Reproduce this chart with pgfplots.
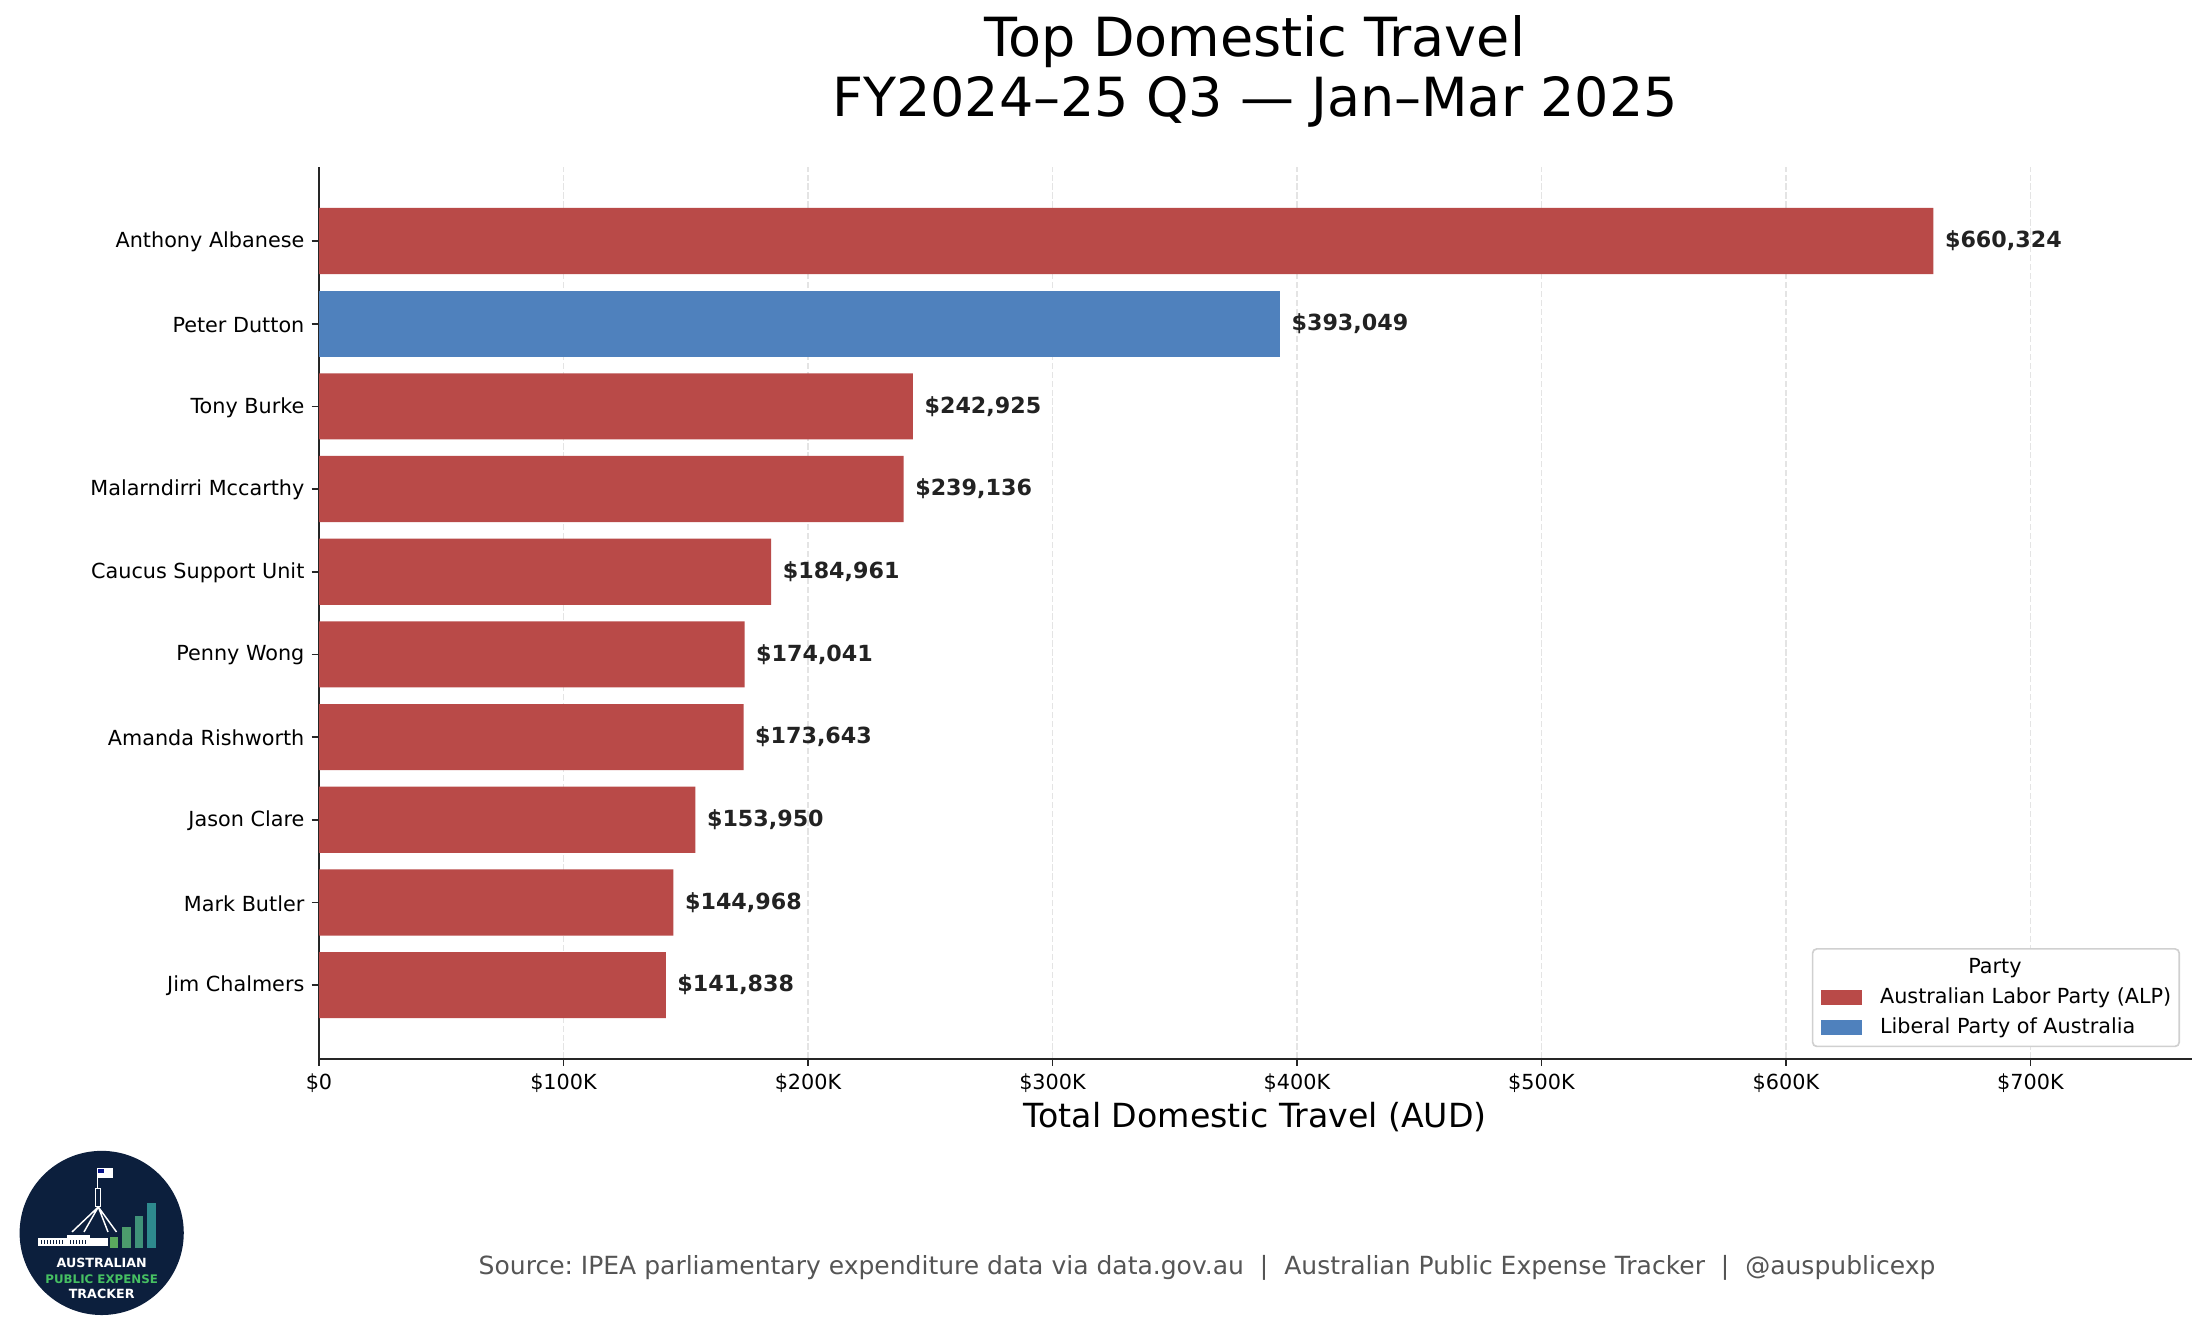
\documentclass[border=0pt]{standalone}
\usepackage{fontspec}
\setmainfont{DejaVu Sans}
\usepackage{pgfplots}
\pgfplotsset{compat=1.18}
\pgfplotsset{/pgf/number format/assume math mode=true}
\definecolor{alp}{HTML}{B94A48}
\definecolor{lib}{HTML}{4F81BD}
\definecolor{axc}{HTML}{262626}
\definecolor{gridc}{HTML}{E4E4E4}
\definecolor{navy}{HTML}{0C1F3D}
\definecolor{lblc}{HTML}{222222}
\definecolor{srcc}{HTML}{555555}
\definecolor{legc}{HTML}{D0D0D0}
\definecolor{lgA}{HTML}{5BAA5E}
\definecolor{lgB}{HTML}{4C9C6C}
\definecolor{lgC}{HTML}{3F9279}
\definecolor{lgD}{HTML}{2E8A8E}
\definecolor{lgGreen}{HTML}{46C062}
\frenchspacing
\begin{document}
\begin{tikzpicture}
\path[use as bounding box] (0,0) rectangle (1058.4bp,641.76bp);
\begin{axis}[
  at={(153.12bp,133.58bp)}, anchor=south west,
  width=898.9bp, height=427.8bp, scale only axis,
  xmin=0, xmax=765976, ymin=-0.89, ymax=9.89,
  axis lines*=left,
  axis line style={draw=axc, line width=0.8pt},
  tick style={draw=axc, line width=0.8pt},
  major tick length=3.5bp,
  tick align=outside,
  xbar, bar width=0.8,
  xtick={0,100000,200000,300000,400000,500000,600000,700000},
  xticklabels={\$0,\$100K,\$200K,\$300K,\$400K,\$500K,\$600K,\$700K},
  scaled x ticks=false,
  ytick={0,1,2,3,4,5,6,7,8,9},
  yticklabels={Jim Chalmers,Mark Butler,Jason Clare,Amanda Rishworth,Penny Wong,Caucus Support Unit,Malarndirri Mccarthy,Tony Burke,Peter Dutton,Anthony Albanese},
  ticklabel style={font=\fontsize{10}{12}\selectfont, text=black},
  yticklabel style={yshift=-0.5bp},
  xmajorgrids=true, ymajorgrids=false,
  major grid style={draw=gridc, line width=0.8pt, dash pattern=on 3bp off 1.3bp},
  xlabel={Total Domestic Travel (AUD)},
  xlabel style={at={(axis description cs:0.5,0)}, anchor=base, yshift=-33.1bp, font=\fontsize{16}{19}\selectfont},
  point meta=x,
  nodes near coords={\$\pgfmathprintnumber[fixed,precision=0,1000 sep={,}]{\pgfplotspointmeta}},
  every node near coord/.append style={anchor=west, inner sep=0pt, xshift=5.4bp, font=\bfseries\fontsize{10.7}{12}\selectfont, text=lblc},
  legend cell align=left,
  legend image code/.code={\fill[#1, sharp corners] (0bp,-3.65bp) rectangle (20bp,3.65bp);},
  legend style={at={(1,0)}, anchor=south east, xshift=-5.6bp, yshift=5.5bp,
    draw=legc, line width=0.8pt, rounded corners=2bp, fill=white,
    inner xsep=3.8bp, inner ysep=4bp, row sep=4.4bp, column sep=8.6bp,
    font=\fontsize{10}{12}\selectfont,
    nodes={inner sep=0pt, text height=7.6bp, text depth=2.4bp}},
]
\addlegendimage{empty legend}
\addlegendentry{\hspace*{42.3bp}Party}
\addplot[draw=none, fill=alp, bar shift=0pt] coordinates {
  (660324,9) (242925,7) (239136,6) (184961,5) (174041,4)
  (173643,3) (153950,2) (144968,1) (141838,0)};
\addlegendentry{Australian Labor Party (ALP)}
\addplot[draw=none, fill=lib, bar shift=0pt] coordinates {(393049,8)};
\addlegendentry{Liberal Party of Australia}
\end{axis}
\begin{scope}[x=0.48bp,y=-0.48bp,yshift=641.76bp]
  \node[anchor=base, font=\fontsize{26}{31}\selectfont] at (1255,56.7) {Top Domestic Travel};
  \node[anchor=base, font=\fontsize{26}{31}\selectfont] at (1255,116.7) {FY2024–25 Q3 — Jan–Mar 2025};
  \node[anchor=base, text=srcc, font=\fontsize{12.05}{14}\selectfont] at (1207,1275)
    {Source: IPEA parliamentary expenditure data via data.gov.au\ \ |\ \ Australian Public Expense Tracker\ \ |\ \ @auspublicexp};
  % logo
  \fill[navy] (101.7,1233) circle (39.4bp);
  \fill[white] (96.7,1168.3) rectangle (113.3,1178.3);
  \fill[navy!60!blue] (97.6,1169.2) rectangle (104,1173.5);
  \draw[white, line width=0.6bp] (97.8,1168) -- (97.8,1189);
  \draw[white, line width=0.5bp] (95.8,1188.5) rectangle (100.8,1207);
  \draw[white, line width=0.7bp] (98.3,1207) -- (72,1232) (98.3,1207) -- (84,1232)
     (98.3,1207) -- (108,1232) (98.3,1207) -- (116.5,1232);
  \fill[white] (38.5,1238.5) rectangle (108,1246);
  \fill[white] (67,1235) rectangle (90,1246);
  \foreach \xx in {41,44,47,50,53,56,59,62,70,73,76,79,82,85} {\fill[navy] (\xx,1240.5) rectangle (\xx+1.2,1244.5);}
  \fill[lgA] (110,1237.3) rectangle (118.3,1248.3);
  \fill[lgB] (122.3,1226.7) rectangle (130.7,1248.3);
  \fill[lgC] (134.7,1216) rectangle (143.3,1248.3);
  \fill[lgD] (147,1202.7) rectangle (155.7,1248.3);
  \node[text=white, font=\bfseries\fontsize{6.1}{7}\selectfont] at (101.7,1263) {AUSTRALIAN};
  \node[text=lgGreen, font=\bfseries\fontsize{5.7}{7}\selectfont] at (101.7,1279) {PUBLIC EXPENSE};
  \node[text=white, font=\bfseries\fontsize{6.1}{7}\selectfont] at (101.7,1294) {TRACKER};
\end{scope}
\end{tikzpicture}
\end{document}
